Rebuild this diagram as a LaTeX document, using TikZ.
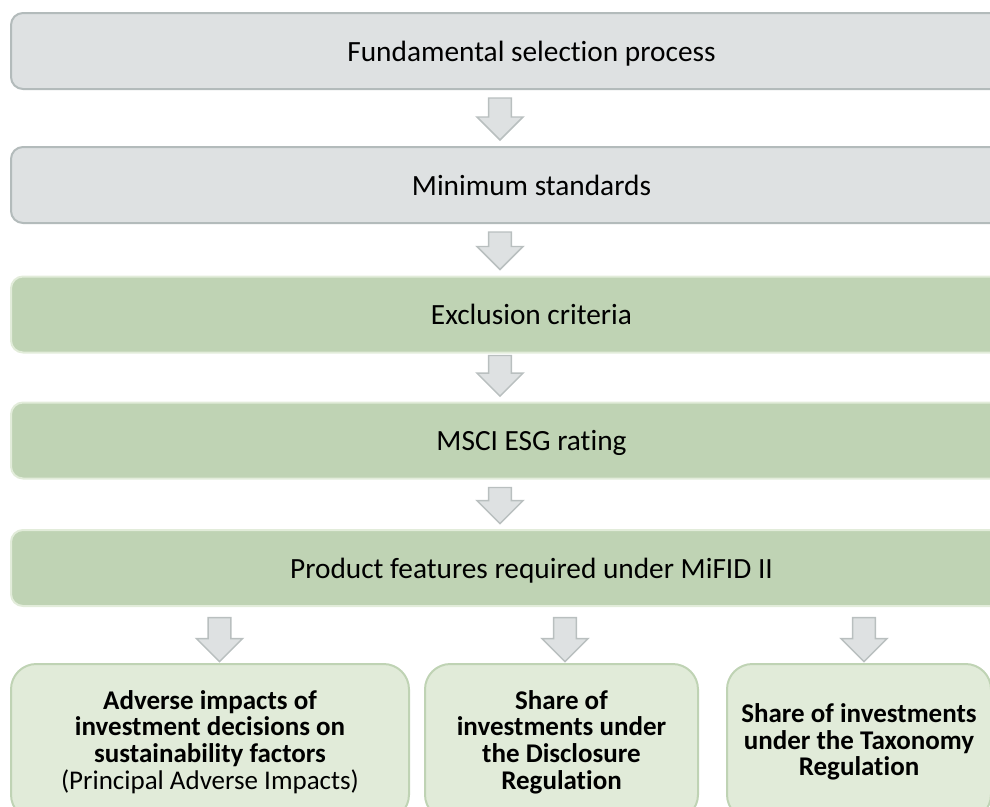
\documentclass[tikz,border=0pt]{standalone}
\usepackage{fontspec}
\setmainfont[Ligatures=NoCommon]{Carlito}
\usetikzlibrary{calc}

\definecolor{grisfond}{HTML}{DEE1E2}
\definecolor{grisbord}{HTML}{B3BBBB}
\definecolor{vertfond}{HTML}{BFD3B4}
\definecolor{vertbord}{HTML}{E2ECDA}
\definecolor{vertclair}{HTML}{E1EBD9}
\definecolor{flechefond}{HTML}{DEE1E2}
\definecolor{flechebord}{HTML}{B9BFBF}

\begin{document}
\begin{tikzpicture}[x=0.75pt,y=-0.75pt]
	\tikzstyle{etape}=[rectangle,rounded corners=9pt,line width=1.5pt,
	minimum width=780.75pt,minimum height=57pt,inner sep=0pt,text depth=0pt,
	font=\fontsize{22}{26}\selectfont]
	\tikzstyle{gris}=[etape,draw=grisbord,fill=grisfond]
	\tikzstyle{vert}=[etape,draw=vertbord,fill=vertfond]
	\tikzstyle{resultat}=[rectangle,rounded corners=19pt,line width=1.5pt,
	draw=vertfond,fill=vertclair,minimum height=117pt,inner sep=0pt,
	align=center,font=\fontsize{20.25}{20}\selectfont]

	\useasboundingbox (0,0) rectangle (990,807);
	\clip (0,0) rectangle (990,807);

	\node[gris] (fsp) at (531.5,51) {Fundamental selection process};
	\node[gris] (ms) at (531.5,185) {Minimum standards};
	\node[vert] (ec) at (531.5,314.5) {Exclusion criteria};
	\node[vert] (esg) at (531.5,440.5) {MSCI ESG rating};
	\node[vert] (pf) at (531.5,568) {Product features required under MiFID II};

	\node[resultat,minimum width=298.5pt] (pai) at (210,742)
	{\textbf{Adverse impacts of}\\\textbf{investment decisions on}\\
	\textbf{sustainability factors}\\(Principal Adverse Impacts)};
	\node[resultat,minimum width=204.75pt] (sdr) at (561.5,742)
	{\textbf{Share of}\\\textbf{investments under}\\\textbf{the Disclosure}\\
	\textbf{Regulation}};
	\node[resultat,minimum width=198pt] (str) at (859,742)
	{\textbf{Share of investments}\\\textbf{under the Taxonomy}\\
	\textbf{Regulation}};

	\tikzstyle{fleche}=[draw=flechebord,fill=flechefond,line width=1.1pt,
	line join=miter,
	to path={let \p1=(\tikztostart), \p2=(\tikztotarget) in
	(\x1-8.6pt,\y1) -- (\x1+8.6pt,\y1) -- (\x1+8.6pt,\y2+17.25pt)
	-- (\x1+17.25pt,\y2+17.25pt) -- (\x1,\y2) -- (\x1-17.25pt,\y2+17.25pt)
	-- (\x1-8.6pt,\y2+17.25pt) -- cycle}]

	\coordinate (axe) at (500,0);
	\coordinate (axeA) at (219.5,0);
	\coordinate (axeB) at (565,0);
	\coordinate (axeC) at (864,0);

	\path[fleche] ([yshift=-6pt]fsp.south -| axe) to ([yshift=4.5pt]ms.north -| axe);
	\path[fleche] ([yshift=-6pt]ms.south -| axe) to ([yshift=4.5pt]ec.north -| axe);
	\path[fleche] ([yshift=-1.5pt]ec.south -| axe) to ([yshift=4pt]esg.north -| axe);
	\path[fleche] ([yshift=-6pt]esg.south -| axe) to ([yshift=4pt]pf.north -| axe);
	\path[fleche] ([yshift=-8pt]pf.south -| axeA) to ([yshift=1pt]pai.north -| axeA);
	\path[fleche] ([yshift=-8pt]pf.south -| axeB) to ([yshift=1pt]sdr.north -| axeB);
	\path[fleche] ([yshift=-8pt]pf.south -| axeC) to ([yshift=1pt]str.north -| axeC);
\end{tikzpicture}
\end{document}
